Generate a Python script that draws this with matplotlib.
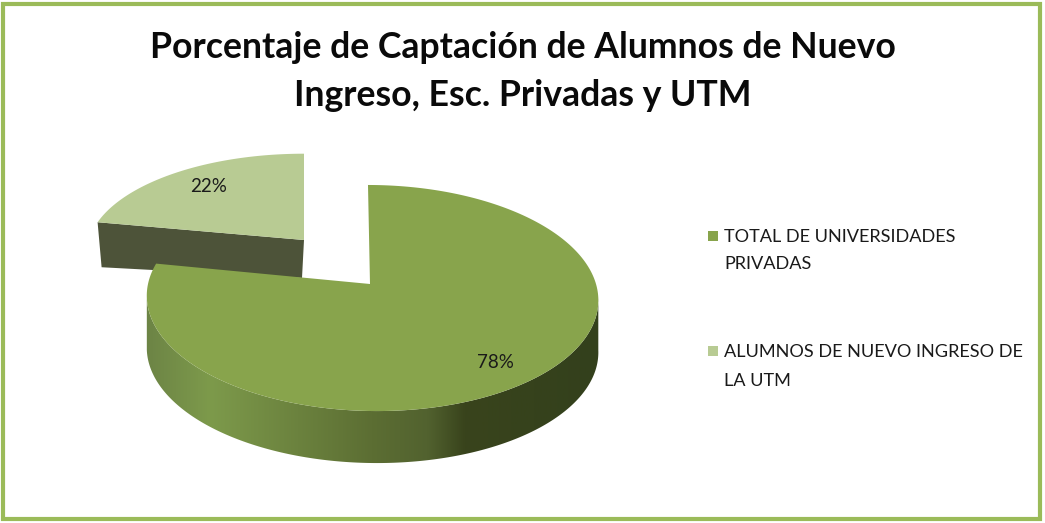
"""Exploded 3D-look pie chart of new student intake."""

import matplotlib

matplotlib.use("Agg")
import matplotlib.pyplot as plt  # noqa: E402
import numpy as np  # noqa: E402
from matplotlib.colors import LinearSegmentedColormap  # noqa: E402
from matplotlib.patches import Polygon, Rectangle  # noqa: E402

TITLE_LINES = ["Porcentaje de Captación de Alumnos de Nuevo", "Ingreso, Esc. Privadas y UTM"]
CATEGORIES = [["TOTAL DE UNIVERSIDADES", "PRIVADAS"], ["ALUMNOS DE NUEVO INGRESO DE", "LA UTM"]]
VALUES = [78, 22]
COLORS = ["#88a44c", "#b8cb93"]
FONT = "Lato"
PERSPECTIVE = 0.124


def rim(theta, cx, cy, rx, ry, skew=0.0):
    """Project rim angles (clockwise from the top, radians) to the picture."""
    d = 1 + PERSPECTIVE * np.cos(theta)
    return cx + (rx * np.sin(theta) + skew * np.cos(theta)) / d, cy - ry * np.cos(theta) / d


plt.rcParams["font.family"] = [FONT, "DejaVu Sans"]
fig = plt.figure(figsize=(10.45, 5.23), dpi=100)
ax = fig.add_axes([0, 0, 1, 1])
ax.axis("off")

ax.add_patch(Rectangle((3, 4), 1037, 515, fill=False, ec="#9bbb59", lw=3.0))
for y, line in zip([47, 95], TITLE_LINES):
    ax.text(523, y, line, ha="center", va="center", fontsize=25.7, fontweight="bold", color="#0a0a0a")

angle_main = 2 * np.pi * VALUES[0] / sum(VALUES)

# small slice, pulled out to the upper left
t = np.linspace(angle_main, 2 * np.pi, 80)
x, y = rim(t, 304, 240, 215, 97)
side = [(x[0], y[0]), (304, 240), (302, 278), (x[0] + 4, y[0] + 45)]
ax.add_patch(Polygon(side, fc="#4d5339", ec="none", zorder=2))
ax.add_patch(Polygon(np.r_[[[304, 240]], np.c_[x, y]], fc=COLORS[1], ec="none", zorder=3))
ax.text(209, 186, f"{VALUES[1]}%", ha="center", va="center", fontsize=13.5, color="#1a1a1a", zorder=6)

# main slice: side wall between the two silhouette angles, then the top face
edge = np.arccos(-PERSPECTIVE)
t = np.linspace(edge, 2 * np.pi - edge, 200)
x, y = rim(t, 372, 284, 224, 111.3, skew=-4.5)
wall = np.r_[np.c_[x, y], np.c_[x, y + 52][::-1]]
stops = [(0, "#6b8245"), (0.15, "#7d9a4b"), (0.5, "#5c6e33"), (0.62, "#52622f"), (0.7, "#39441c"), (1, "#33401c")]
cmap = LinearSegmentedColormap.from_list("wall", stops)
patch = Polygon(wall, fc="none", ec="none", zorder=4)
ax.add_patch(patch)
image = ax.imshow(
    np.linspace(0, 1, 256)[None, :],
    cmap=cmap,
    extent=(140, 604, 523, 0),
    aspect="auto",
    zorder=4,
)
image.set_clip_path(patch)

t = np.linspace(0, angle_main, 300)
x, y = rim(t, 372, 284, 224, 111.3, skew=-4.5)
ax.add_patch(Polygon(np.r_[[[370, 284]], np.c_[x, y]], fc=COLORS[0], ec="none", zorder=5))
ax.text(495, 363, f"{VALUES[0]}%", ha="center", va="center", fontsize=13.5, color="#1a1a1a", zorder=6)

# legend
for color, lines, ys in zip(COLORS, CATEGORIES, [(237, 264), (352, 381)]):
    ax.add_patch(Rectangle((708, ys[0] - 6), 10, 10, fc=color, ec="none"))
    for yy, line in zip(ys, lines):
        ax.text(724, yy, line, ha="left", va="center", fontsize=13.1, color="#1a1a1a")

ax.set_xlim(0, 1045)
ax.set_ylim(523, 0)
fig.savefig("out.png", dpi=100, facecolor="white")
